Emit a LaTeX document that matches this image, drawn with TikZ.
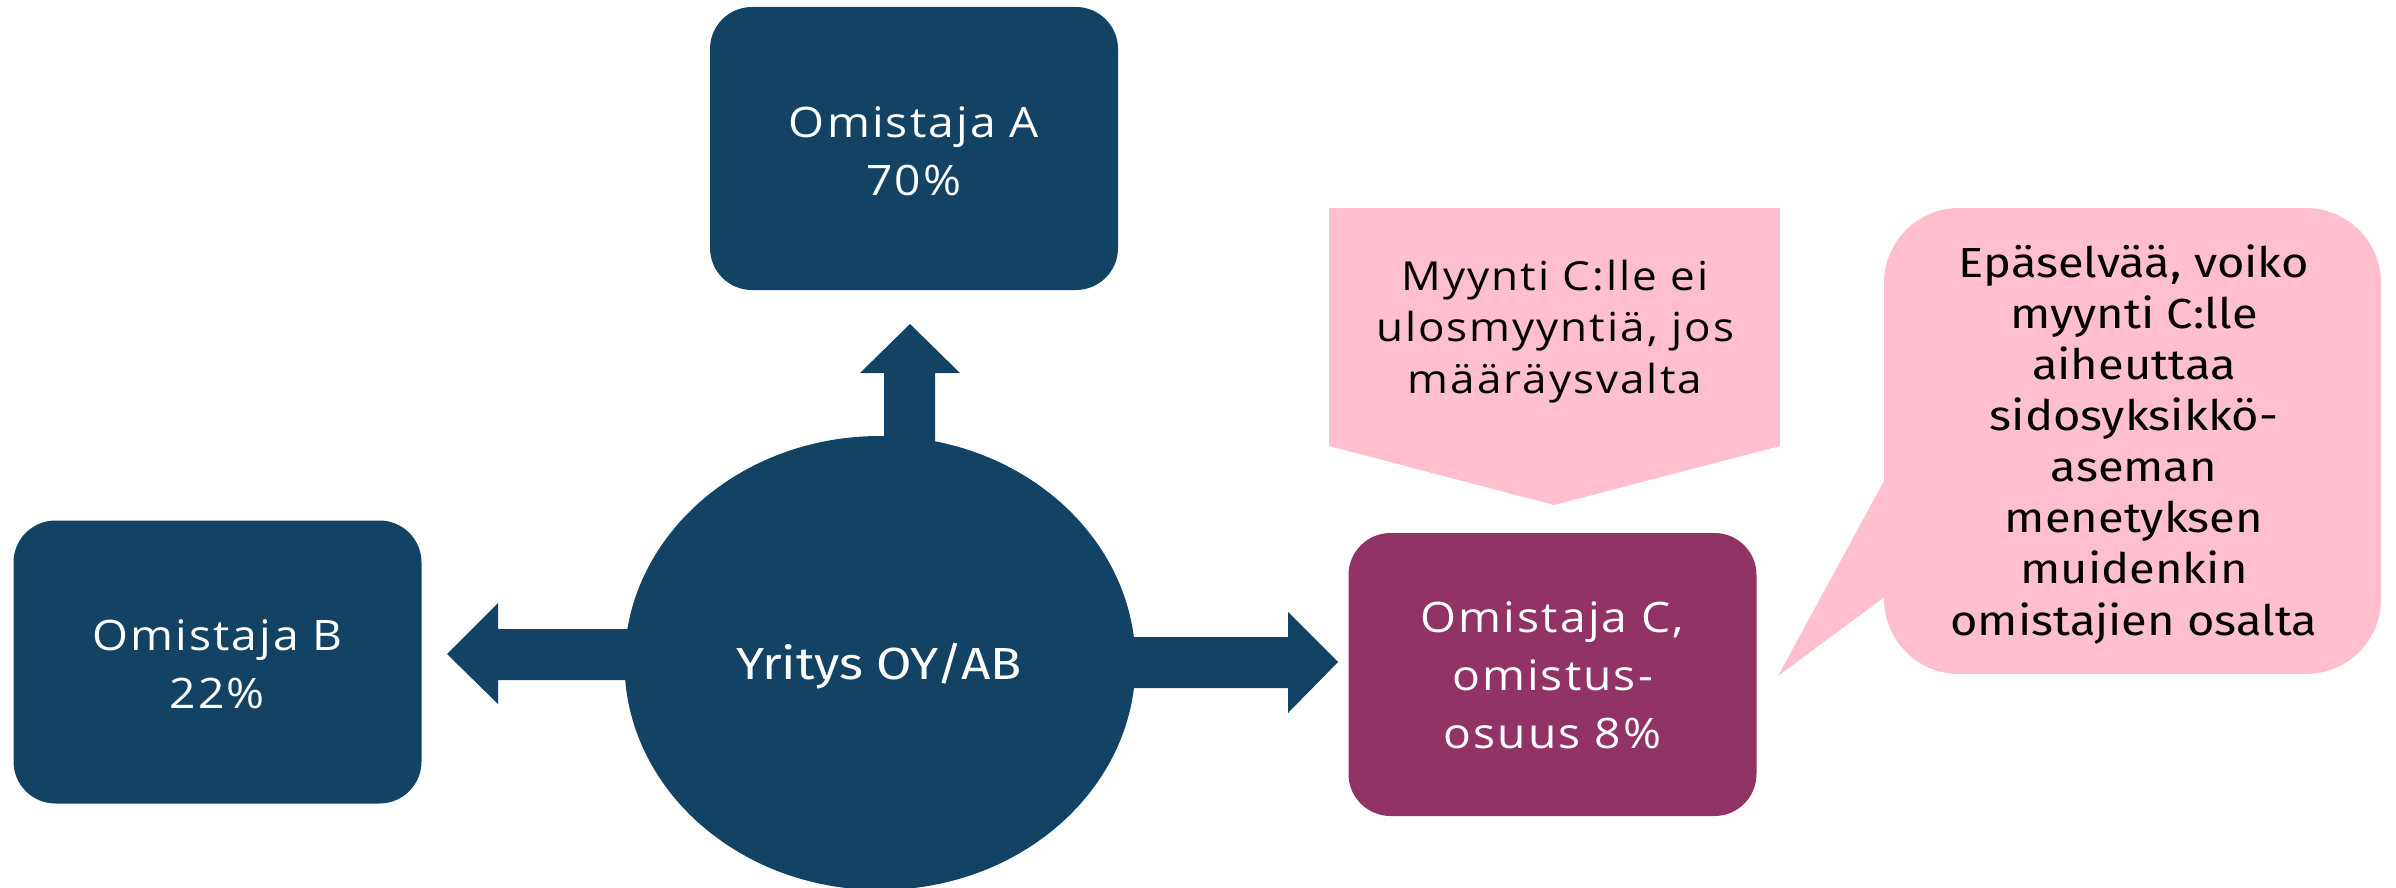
\documentclass[tikz,border=0pt]{standalone}
\usepackage{fontspec}
\usetikzlibrary{shapes.geometric,calc}
\newfontfamily\wfont{Open Sans}[FakeStretch=1.1,LetterSpace=5]
\newfontfamily\cfont{Fira Sans}[FakeStretch=1.12]
\newfontfamily\efont{Fira Sans}[FakeStretch=1.14]
\definecolor{navy}{HTML}{124264}
\definecolor{plum}{HTML}{923366}
\definecolor{rose}{HTML}{FFBFCE}
\tikzset{
  box/.style={rectangle, rounded corners=42pt, inner sep=0pt, minimum width=408pt, minimum height=283pt},
  boxtext/.style={anchor=base, align=center, text=white, inner sep=0pt, font=\wfont\fontsize{42}{58}\selectfont},
  notetext/.style={anchor=base, align=center, text=black, inner sep=0pt, font=\wfont\fontsize{40}{51.5}\selectfont},
  calltext/.style={anchor=base, align=center, text=black, inner sep=0pt, font=\cfont\fontsize{42}{51.1}\selectfont},
}
\begin{document}
\begin{tikzpicture}[x=1pt,y=-1pt]
\useasboundingbox (0,0) rectangle (2396,888);
% central ellipse and block arrows
\node[ellipse, fill=navy, inner sep=0pt, minimum width=511pt, minimum height=454pt] (ell) at (880,663) {};
\fill[navy] ($(ell.center)+(0,-26)$) -- ++(408,0) -- ++(0,-25) -- ++(50,50) -- ++(-50,51) -- ++(0,-25) -- ++(-408,0) -- cycle;
\fill[navy] ($(ell.center)+(0,-34)$) -- ++(-382,0) -- ++(0,-26) -- ++(-51,51) -- ++(51,50) -- ++(0,-24) -- ++(382,0) -- cycle;
\fill[navy] ($(ell.center)+(4,0)$) -- ++(0,-290) -- ++(-24,0) -- ++(50,-49) -- ++(50,49) -- ++(-25,0) -- ++(0,290) -- cycle;
\node[anchor=base, text=white, inner sep=0pt, font=\efont\fontsize{45}{50}\selectfont] (tE) at (879,679) {Yritys OY/AB};
% owner boxes
\node[box, fill=navy] (boxA) at (914,148.5) {};
\node[boxtext] (tA) at (914,195) {Omistaja A\\70\%};
\node[box, fill=navy] (boxB) at (217.5,662) {};
\node[boxtext] (tB) at (217.5,708) {Omistaja B\\22\%};
\node[box, fill=plum] (boxC) at (1552.5,674.5) {};
\node[boxtext] (tC) at (1552.5,748) {Omistaja C,\\omistus-\\osuus 8\%};
% pentagon note
\fill[rose] (1329,208) -- (1780,208) -- (1780,446) -- (1554,505) -- (1329,446) -- cycle;
\node[notetext] (tN) at (1555,393) {Myynti C:lle ei\\ulosmyyntiä, jos\\määräysvalta};
% speech callout
\fill[rose, rounded corners=75pt] (1884,208) rectangle (2381,674);
\fill[rose] (1884.5,480) -- (1778,676) -- (1884.5,597) -- cycle;
\node[calltext] (tK) at (2134,635) {Epäselvää, voiko\\myynti C:lle\\aiheuttaa\\sidosyksikkö-\\aseman\\menetyksen\\muidenkin\\omistajien osalta};
\end{tikzpicture}
\end{document}
